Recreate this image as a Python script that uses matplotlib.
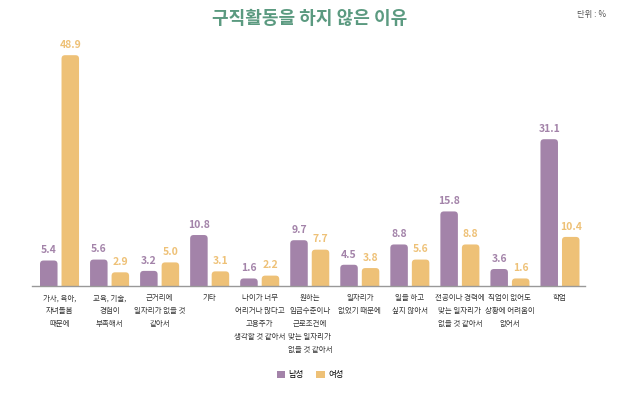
import matplotlib
matplotlib.use("Agg")
import matplotlib.pyplot as plt
from matplotlib.patches import FancyBboxPatch, Patch
import numpy as np

plt.rcParams['font.family'] = ['Noto Sans CJK KR', 'DejaVu Sans']

categories = [
    "가사, 육아,\n자녀돌봄\n때문에",
    "교육, 기술,\n경험이\n부족해서",
    "근거리에\n일자리가 없을 것\n같아서",
    "기타",
    "나이가 너무\n어리거나 많다고\n고용주가\n생각할 것 같아서",
    "원하는\n임금수준이나\n근로조건에\n맞는 일자리가\n없을 것 같아서",
    "일자리가\n없었기 때문에",
    "일을 하고\n싶지 않아서",
    "전공이나 경력에\n맞는 일자리가\n없을 것 같아서",
    "직업이 없어도\n상황에 어려움이\n없어서",
    "학업",
]
male = [5.4, 5.6, 3.2, 10.8, 1.6, 9.7, 4.5, 8.8, 15.8, 3.6, 31.1]
female = [48.9, 2.9, 5.0, 3.1, 2.2, 7.7, 3.8, 5.6, 8.8, 1.6, 10.4]
series_names = ["남성", "여성"]

c_male = "#a383a9"
c_female = "#eec177"

fig = plt.figure(figsize=(6.2, 3.93), dpi=100)
ax = fig.add_axes([32/620, 1-286/393, (585-32)/620, (286-50)/393])
x = np.arange(len(categories))
w = 0.35
off = 0.215
ax.set_xlim(-0.55, 10.5)
ax.set_ylim(0, 50)

px_x = 0.02
px_y = 50/236
aspect = px_y/px_x
r = 3.5 * px_x

for vals, sign, col in [(male, -1, c_male), (female, 1, c_female)]:
    bars = ax.bar(x + sign*off, vals, width=w, color=col, alpha=0)
    for b, v in zip(bars, vals):
        bx, bw, bh = b.get_x(), b.get_width(), b.get_height()
        p = FancyBboxPatch((bx, -2), bw, bh + 2,
                           boxstyle=f"round,pad=0,rounding_size={r}",
                           mutation_aspect=aspect, facecolor=col, edgecolor='none',
                           clip_on=True)
        ax.add_patch(p)
        p.set_clip_path(ax.patch)
        ax.text(bx + bw/2, bh + 1.1, f"{v:.1f}", ha='center', va='bottom',
                color=col, fontsize=7.5, fontweight='bold')

for s in ['top', 'right', 'left']:
    ax.spines[s].set_visible(False)
ax.spines['bottom'].set_color('#999999')
ax.spines['bottom'].set_linewidth(1)
ax.spines['bottom'].set_zorder(5)
ax.set_yticks([])
ax.set_xticks(x)
ax.set_xticklabels(categories, fontsize=5.4, color='#333333', linespacing=1.8, va='top')
ax.tick_params(axis='x', length=0, pad=6)

fig.text(0.5, 1-18/393, "구직활동을 하지 않은 이유", ha='center', va='center',
         fontsize=13, fontweight='bold', color='#5b9a80')
fig.text(606/620, 1-15/393, "단위 : %", ha='right', va='center', fontsize=6, color='#555555')

handles = [Patch(facecolor=c_male), Patch(facecolor=c_female)]
fig.legend(handles, series_names, loc='center', bbox_to_anchor=(310/620, 1-375/393),
           ncol=2, frameon=False, fontsize=6, handlelength=1.0, handleheight=1.0,
           columnspacing=1.5, handletextpad=0.4)

fig.savefig("out.png", dpi=100)
